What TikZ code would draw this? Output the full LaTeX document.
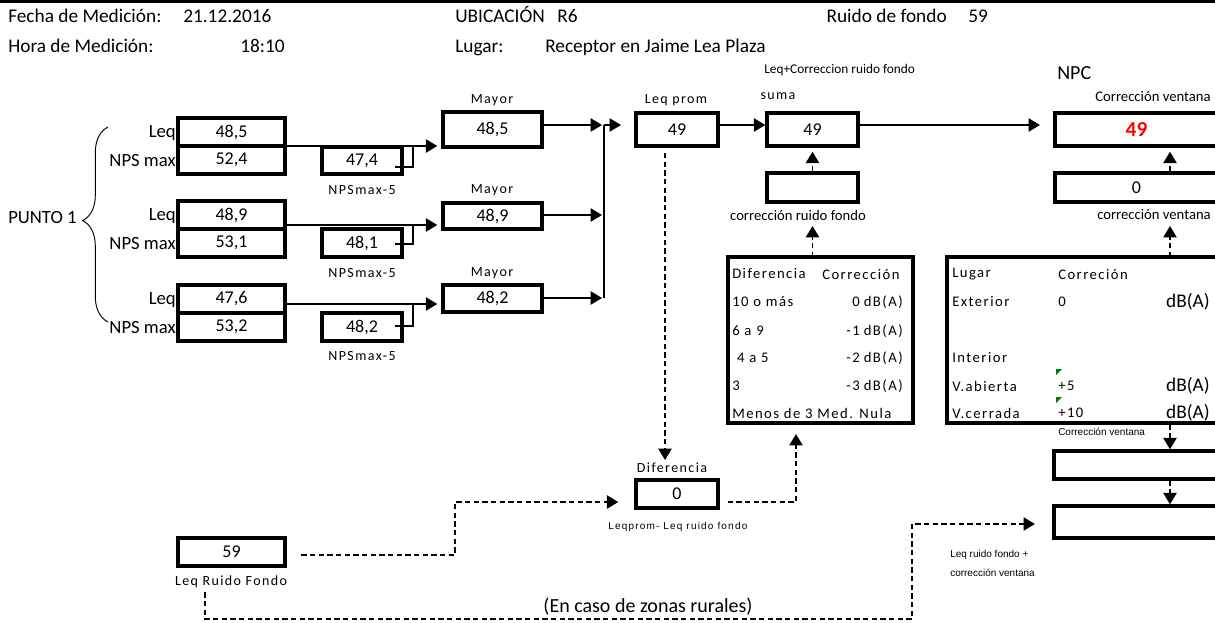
\documentclass[tikz,border=0pt]{standalone}
\usepackage{fontspec}
\setmainfont{Carlito}
\newfontfamily\spacedfont[LetterSpace=10]{Carlito}
\newfontfamily\tinyfont{Liberation Sans}
\newfontfamily\tinyspaced[LetterSpace=12]{Liberation Sans}
\usetikzlibrary{arrows.meta,decorations.pathreplacing}

\tikzset{
  rect/.style args={#1/#2/#3/#4}{at={({(#1+#3)/2},{(#2+#4)/2})},
    minimum width={(#3-#1)*0.75pt}, minimum height={(#4-#2)*0.75pt}},
  box/.style={draw, line width=2.6pt, inner sep=0pt, font=\fontsize{13.5}{15}\selectfont},
  hdr/.style={inner sep=0pt, font=\fontsize{14.5}{16}\selectfont},
  rowlab/.style={inner sep=0pt, anchor=east, font=\fontsize{14}{16}\selectfont},
  small/.style={inner sep=0pt, font=\spacedfont\fontsize{10.5}{12}\selectfont},
  plain/.style={inner sep=0pt, font=\fontsize{11}{13}\selectfont},
  tiny/.style={inner sep=0pt, font=\tinyfont\fontsize{7.5}{9}\selectfont},
  tabtxt/.style={inner sep=0pt, font=\spacedfont\fontsize{11}{13}\selectfont},
  unit/.style={inner sep=0pt, anchor=east, font=\fontsize{14.5}{16}\selectfont},
  line/.style={line width=0.9pt},
  conn/.style={line width=0.9pt, -{Triangle[length=8.5pt,width=10pt]}},
  dconn/.style={conn, dash pattern=on 4pt off 2.5pt},
  flag/.style={fill=green!50!black},
}

\begin{document}
\begin{tikzpicture}[x=0.75pt,y=-0.75pt]
\useasboundingbox (0,0) rectangle (1215,622);
\clip (0,0) rectangle (1215,622);
\fill[white] (0,0) rectangle (1215,622);
\fill[black] (0,0) rectangle (1215,3);

% header
\node[hdr, anchor=base west] (fecha)  at (8,22)   {Fecha de Medición:};
\node[hdr, anchor=base west] (fechaV) at (183,22) {21.12.2016};
\node[hdr, anchor=base west] (hora)   at (8,52)   {Hora de Medición:};
\node[hdr, anchor=base west] (horaV)  at (240,52) {18:10};
\node[hdr, anchor=base west] (ubic)   at (455,22) {UBICACIÓN};
\node[hdr, anchor=base west] (ubicV)  at (557,22) {R6};
\node[hdr, anchor=base west] (lugar)  at (455,52) {Lugar:};
\node[hdr, anchor=base west] (lugarV) at (545,52) {Receptor en Jaime Lea Plaza};
\node[hdr, anchor=base east] (ruido)  at (947,22) {Ruido de fondo};
\node[hdr, anchor=base west] (ruidoV) at (968,22) {59};

% measuring point and its three readings
\node[hdr, anchor=west, font=\fontsize{14}{16}\selectfont] (punto) at (8,218) {PUNTO 1};
\draw[line width=0.7pt, decorate, decoration={brace, amplitude=19pt, aspect=0.52}]
  (108,322) -- (108,127);

\node[rowlab] (lLeqA) at (176,133) {Leq};
\node[rowlab] (lNpsA) at (176,161) {NPS max};
\node[rowlab] (lLeqB) at (176,216) {Leq};
\node[rowlab] (lNpsB) at (176,244) {NPS max};
\node[rowlab] (lLeqC) at (176,300) {Leq};
\node[rowlab] (lNpsC) at (176,328) {NPS max};

\node[box, rect=178/118/285/146] (leqA) {48,5};
\node[box, rect=178/146/285/174] (npsA) {52,4};
\node[box, rect=178/201/285/229] (leqB) {48,9};
\node[box, rect=178/229/285/257] (npsB) {53,1};
\node[box, rect=178/285/285/313] (leqC) {47,6};
\node[box, rect=178/313/285/341] (npsC) {53,2};

\node[box, rect=322/147/402/174] (nmA) {47,4};
\node[box, rect=322/229/402/257] (nmB) {48,1};
\node[box, rect=322/313/402/341] (nmC) {48,2};
\node[small] (tNmA) at (362,190) {NPSmax-5};
\node[small] (tNmB) at (362,273) {NPSmax-5};
\node[small] (tNmC) at (362,356) {NPSmax-5};

\node[box, rect=443/112/542/147] (mayA) {48,5};
\node[box, rect=443/203/542/229] (mayB) {48,9};
\node[box, rect=443/285/542/312] (mayC) {48,2};
\node[small] (tMayA) at (492,100) {Mayor};
\node[small] (tMayB) at (492,190) {Mayor};
\node[small] (tMayC) at (492,273) {Mayor};

% readings into the "Mayor" boxes
\coordinate (jA) at (413,146);
\coordinate (jB) at (413,225);
\coordinate (jC) at (413,304);
\coordinate (kA) at (395,167);
\coordinate (kB) at (395,244);
\coordinate (kC) at (395,326);
\draw[conn] (leqA.east |- jA) -- ([xshift=-3pt]mayA.west |- jA);
\draw[conn] (leqB.east |- jB) -- ([xshift=-3pt]mayB.west |- jB);
\draw[conn] (leqC.east |- jC) -- ([xshift=-3pt]mayC.west |- jC);
\draw[line] (kA) -| (jA);
\draw[line] (kB) -| (jB);
\draw[line] (kC) -| (jC);

% average
\node[box, rect=636/113/718/146] (leqp) {49};
\node[small] (tLeqp) at (676,100) {Leq prom};
\coordinate (m1) at (604,125);
\coordinate (m2) at (604,215);
\coordinate (m3) at (604,298);
\draw[conn] (mayA.east |- m1) -- ([xshift=-1.5pt]m1);
\draw[conn] (mayB.east |- m2) -- ([xshift=-1.5pt]m2);
\draw[conn] (mayC.east |- m3) -- ([xshift=-1.5pt]m3);
\draw[line] (m1) -- (m3);
\draw[conn] (m1) -- ([xshift=-10pt]leqp.west |- m1);

% background noise correction
\node[box, rect=767/113/858/146] (suma) {49};
\node[small] (tSuma) at (778,96) {suma};
\node[plain, anchor=west, font=\fontsize{10}{12}\selectfont] (tLeqCorr) at (764,70) {Leq+Correccion ruido fondo};
\node[box, rect=767/173/858/202] (crf) {};
\node[plain] (tCrf) at (798,215) {corrección ruido fondo};
\draw[conn] (leqp.east |- m1) -- (suma.west |- m1);
\draw[dconn] (crf.north) -- ([yshift=-3pt]suma.south);
\draw[dconn] (crf.south |- 0,257) -- (crf.south |- 0,226);

% NPC
\node[hdr, anchor=west, font=\fontsize{15}{17}\selectfont] (tNpc) at (1057,73) {NPC};
\node[plain] (tCvA) at (1153,97) {Corrección ventana};
\node[box, rect=1055/113/1218/146, text=red, font=\bfseries\fontsize{16}{18}\selectfont] (npc) {49};
\node[box, rect=1055/173/1218/202] (crv) {0};
\node[plain] (tCvB) at (1154,215) {corrección ventana};
\draw[conn] (suma.east |- m1) -- ([xshift=-10pt]npc.west |- m1);
\coordinate (vx) at (1170,0);
\draw[dconn] (vx |- crv.north) -- ([yshift=-3pt]vx |- npc.south);

% correction table: background noise
\node[box, rect=728/257/913/423] (tabD) {};
\node[tabtxt, anchor=west] (dH1) at (732,274) {Diferencia};
\node[tabtxt, anchor=west] (dH2) at (822,274) {Corrección};
\foreach \i/\y/\a/\b in {1/302/10 o más/0, 2/331/6 a 9/-1, 3/358/\ 4 a 5/-2, 4/386/3/-3}{
  \node[tabtxt, anchor=west] (dL\i) at (732,\y) {\a};
  \node[tabtxt, anchor=east] (dN\i) at (860,\y) {\b};
  \node[tabtxt, anchor=east] (dU\i) at (903,\y) {dB(A)};
}
\node[tabtxt, anchor=west] (dL5) at (732,413) {Menos de 3 Med. Nula};
\draw[dconn] (vx |- 0,257) -- (vx |- 0,226);

% correction table: window
\node[box, rect=947/257/1218/423] (tabL) {};
\node[tabtxt, anchor=west] (wH1) at (952,274) {Lugar};
\node[tabtxt, anchor=west] (wH2) at (1058,274) {Correción};
\node[tabtxt, anchor=west] (wL1) at (952,302) {Exterior};
\node[tabtxt, anchor=west] (wV1) at (1058,302) {0};
\node[unit] (wU1) at (1210,302) {dB(A)};
\node[tabtxt, anchor=west] (wL2) at (952,358) {Interior};
\node[tabtxt, anchor=west] (wL3) at (952,386) {V.abierta};
\node[tabtxt, anchor=west] (wV3) at (1058,386) {+5};
\node[unit] (wU3) at (1210,386) {dB(A)};
\node[tabtxt, anchor=west] (wL4) at (952,413) {V.cerrada};
\node[tabtxt, anchor=west] (wV4) at (1058,413) {+10};
\node[unit] (wU4) at (1210,413) {dB(A)};
\fill[flag] (1056,369) -- (1062,369) -- (1056,375) -- cycle;
\fill[flag] (1056,397) -- (1062,397) -- (1056,403) -- cycle;

% rural case boxes
\node[tiny, anchor=west] (tCvC) at (1058,432) {Corrección ventana};
\node[box, rect=1054/451/1218/479] (vA) {};
\node[box, rect=1054/506/1218/538] (vB) {};
\draw[dconn] (vx |- tabL.south) -- (vx |- vA.north);
\draw[dconn] (vx |- vA.south) -- (vx |- vB.north);
\node[tiny, anchor=west] (tRfA) at (950,555) {Leq ruido fondo +};
\node[tiny, anchor=west] (tRfB) at (950,573) {corrección ventana};

% difference
\node[box, rect=636/480/718/508] (dif) {0};
\node[small] (tDif) at (672,468) {Diferencia};
\node[tiny, anchor=west, font=\tinyspaced\fontsize{7.5}{9}\selectfont] (tDifB) at (608,527) {Leqprom- Leq ruido fondo};
\coordinate (dx) at (665,0);
\draw[dconn] ([yshift=-4pt]dx |- leqp.south) -- (dx |- 0,460);
\coordinate (d1) at (796,502);
\draw[dconn] ([xshift=6pt]dif.east |- d1) -- (d1) -- ([yshift=-7pt]d1 |- tabD.south);

% background noise level
\node[box, rect=178/538/285/566] (lrf) {59};
\node[small] (tLrf) at (231,582) {Leq Ruido Fondo};
\coordinate (r1) at (455,555);
\coordinate (r2) at (455,502);
\draw[dconn] ([xshift=11pt]lrf.east |- r1) -- (r1) -- (r2) -- ([xshift=-12pt]dif.west |- r2);
\coordinate (b1) at (205,619);
\coordinate (b2) at (912,619);
\coordinate (b3) at (912,524);
\draw[dconn] ([yshift=-3pt]b1 |- tLrf.south) -- (b1) -- (b2) -- (b3) -- ([xshift=-13pt]vB.west |- b3);
\node[hdr, font=\fontsize{15}{17}\selectfont] (tRural) at (648,607) {(En caso de zonas rurales)};
\end{tikzpicture}
\end{document}
